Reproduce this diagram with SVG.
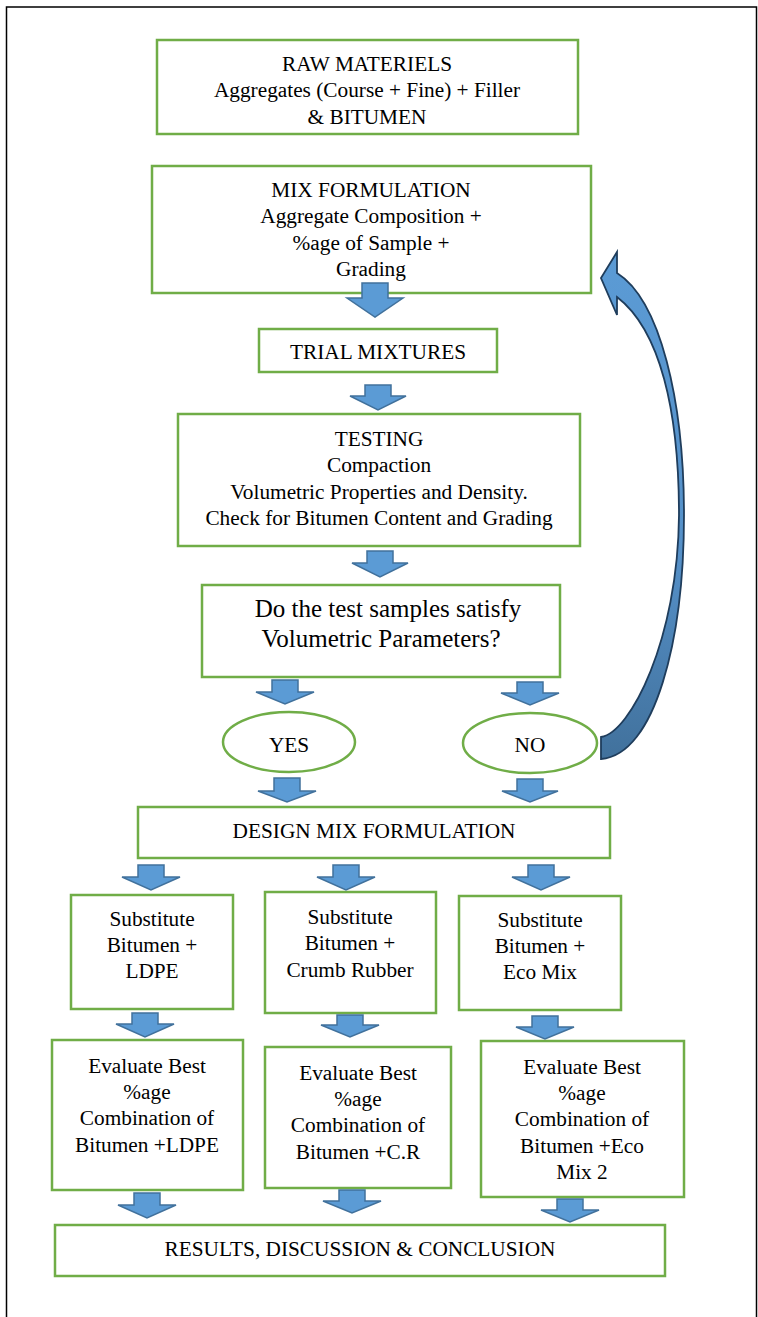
<svg xmlns="http://www.w3.org/2000/svg" width="758" height="1317" viewBox="0 0 758 1317">
<defs>
<style>
.box{fill:#fff;stroke:#70ad47;stroke-width:2.5}
.t{font-family:"Liberation Serif","Times New Roman",serif;font-size:21.3px;fill:#000;text-anchor:middle}
.q{font-size:25px}
.arr{fill:#5b9bd5;stroke:#41719c;stroke-width:1.5;stroke-linejoin:miter}
</style>
<linearGradient id="cg" x1="0" y1="0" x2="0" y2="1">
<stop offset="0" stop-color="#5b9bd5"/>
<stop offset="0.6" stop-color="#5590c8"/>
<stop offset="1" stop-color="#41719c"/>
</linearGradient>
</defs>
<rect width="758" height="1317" fill="#fff"/>
<path d="M6.5 1317 V7 H756.5 V1317" fill="none" stroke="#000" stroke-width="1.5"/>

<g id="n-raw"><rect class="box" x="157" y="40" width="421" height="94"/>
<text class="t" x="367" y="71">RAW MATERIELS</text>
<text class="t" x="367" y="97">Aggregates (Course + Fine) + Filler</text>
<text class="t" x="367" y="124">&amp; BITUMEN</text></g>

<g id="n-mix"><rect class="box" x="152" y="166" width="439" height="127"/>
<text class="t" x="371" y="197">MIX FORMULATION</text>
<text class="t" x="371" y="223">Aggregate Composition +</text>
<text class="t" x="371" y="250">%age of Sample +</text>
<text class="t" x="371" y="276">Grading</text></g>

<g id="n-trial"><rect class="box" x="259" y="329" width="238" height="43"/>
<text class="t" x="378" y="359">TRIAL MIXTURES</text></g>

<g id="n-test"><rect class="box" x="178" y="414" width="402" height="132"/>
<text class="t" x="379" y="446">TESTING</text>
<text class="t" x="379" y="472">Compaction</text>
<text class="t" x="379" y="499">Volumetric Properties and Density.</text>
<text class="t" x="379" y="525">Check for Bitumen Content and Grading</text></g>

<g id="n-q"><rect class="box" x="202" y="585" width="358" height="92"/>
<text class="t q" x="388" y="617">Do the test samples satisfy</text>
<text class="t q" x="381" y="647">Volumetric Parameters?</text></g>

<g id="n-yes"><ellipse class="box" cx="289" cy="742" rx="66" ry="30"/>
<text class="t" x="289" y="752">YES</text></g>

<g id="n-no"><ellipse class="box" cx="530" cy="743" rx="67" ry="30"/>
<text class="t" x="530" y="752">NO</text></g>

<g id="n-design"><rect class="box" x="138" y="807" width="472" height="51"/>
<text class="t" x="374" y="838">DESIGN MIX FORMULATION</text></g>

<g id="n-subA"><rect class="box" x="71" y="895" width="162" height="114"/>
<text class="t" x="152" y="926">Substitute</text>
<text class="t" x="152" y="952">Bitumen +</text>
<text class="t" x="152" y="978">LDPE</text></g>

<g id="n-subB"><rect class="box" x="265" y="892" width="171" height="121"/>
<text class="t" x="350" y="924">Substitute</text>
<text class="t" x="350" y="950">Bitumen +</text>
<text class="t" x="350" y="977">Crumb Rubber</text></g>

<g id="n-subC"><rect class="box" x="459" y="896" width="162" height="114"/>
<text class="t" x="540" y="927">Substitute</text>
<text class="t" x="540" y="953">Bitumen +</text>
<text class="t" x="540" y="979">Eco Mix</text></g>

<g id="n-evalA"><rect class="box" x="52" y="1040" width="191" height="150"/>
<text class="t" x="147" y="1073">Evaluate Best</text>
<text class="t" x="147" y="1099">%age</text>
<text class="t" x="147" y="1125">Combination of</text>
<text class="t" x="147" y="1152">Bitumen +LDPE</text></g>

<g id="n-evalB"><rect class="box" x="265" y="1047" width="186" height="141"/>
<text class="t" x="358" y="1080">Evaluate Best</text>
<text class="t" x="358" y="1106">%age</text>
<text class="t" x="358" y="1132">Combination of</text>
<text class="t" x="358" y="1159">Bitumen +C.R</text></g>

<g id="n-evalC"><rect class="box" x="481" y="1041" width="203" height="156"/>
<text class="t" x="582" y="1074">Evaluate Best</text>
<text class="t" x="582" y="1100">%age</text>
<text class="t" x="582" y="1126">Combination of</text>
<text class="t" x="582" y="1153">Bitumen +Eco</text>
<text class="t" x="582" y="1179">Mix 2</text></g>

<g id="n-results"><rect class="box" x="55" y="1225" width="610" height="51"/>
<text class="t" x="360" y="1256">RESULTS, DISCUSSION &amp; CONCLUSION</text></g>

<g id="connectors">
<path class="arr" d="M362 283 H388 V298 H403 L375 317 L347 298 H362 Z"/>
<path class="arr" d="M365 385 H391 V396 H406 L378 410 L350 396 H365 Z"/>
<path class="arr" d="M367 551 H393 V563 H408 L380 577 L352 563 H367 Z"/>
<path class="arr" d="M272 680 H298 V692 H314 L285 704 L256 692 H272 Z"/>
<path class="arr" d="M517 682 H543 V693 H559 L530 705 L501 693 H517 Z"/>
<path class="arr" d="M274 778 H300 V791 H316 L287 802 L258 791 H274 Z"/>
<path class="arr" d="M517 779 H543 V791 H558 L530 802 L502 791 H517 Z"/>
<path class="arr" d="M138 865 H164 V877 H180 L151 890 L122 877 H138 Z"/>
<path class="arr" d="M333 865 H359 V877 H375 L346 890 L317 877 H333 Z"/>
<path class="arr" d="M528 865 H554 V877 H570 L541 890 L512 877 H528 Z"/>
<path class="arr" d="M132 1013 H158 V1024 H174 L145 1037 L116 1024 H132 Z"/>
<path class="arr" d="M337 1015 H363 V1025 H379 L350 1037 L321 1025 H337 Z"/>
<path class="arr" d="M532 1016 H558 V1027 H574 L545 1039 L516 1027 H532 Z"/>
<path class="arr" d="M134 1193 H160 V1205 H176 L147 1218 L118 1205 H134 Z"/>
<path class="arr" d="M339 1190 H365 V1201 H381 L352 1213 L323 1201 H339 Z"/>
<path class="arr" d="M557 1199 H583 V1210 H599 L570 1222 L541 1210 H557 Z"/>
<path d="M601 278 L617 252 L617 273 C660 300 684 400 684 515 C684 640 655 755 601 759 L601 737 C630 733 678 640 679 515 C679 410 660 330 617 297 L617 315 Z" fill="url(#cg)" stroke="#1f3d5c" stroke-width="1.8" stroke-linejoin="miter"/>
</g>
</svg>
